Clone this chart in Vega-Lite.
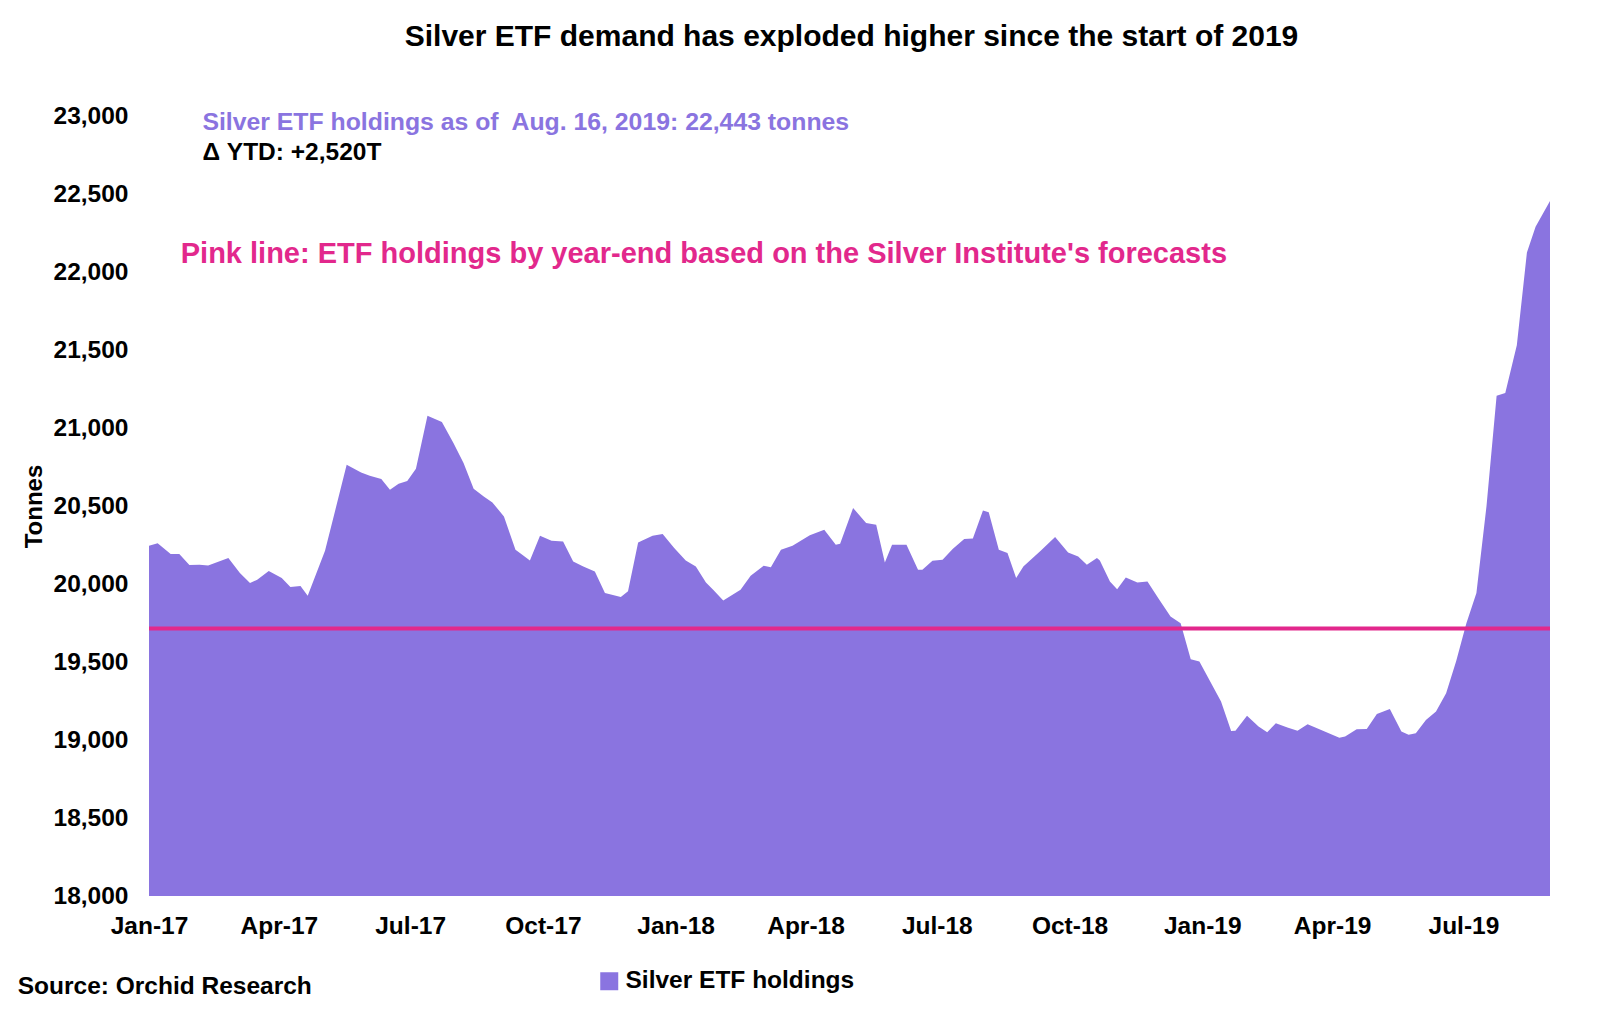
{
  "$schema": "https://vega.github.io/schema/vega-lite/v6.json",
  "width": 1401,
  "height": 780,
  "autosize": {"type": "none"},
  "padding": {"left": 149, "top": 116, "right": 59, "bottom": 117},
  "background": "white",
  "config": {"view": {"stroke": null}, "font": "Liberation Sans"},
  "title": {
    "text": "Silver ETF demand has exploded higher since the start of 2019",
    "font": "Liberation Sans",
    "fontSize": 30,
    "fontWeight": "bold",
    "color": "#000000",
    "anchor": "middle",
    "frame": "group",
    "dx": 2,
    "offset": 51
  },
  "resolve": {"axis": {"x": "independent", "y": "independent"}},
  "data": {
    "values": [
      {"date": "2017-01-01", "tonnes": 20245},
      {"date": "2017-01-07", "tonnes": 20262},
      {"date": "2017-01-16", "tonnes": 20192},
      {"date": "2017-01-22", "tonnes": 20192},
      {"date": "2017-01-29", "tonnes": 20121},
      {"date": "2017-02-05", "tonnes": 20123},
      {"date": "2017-02-11", "tonnes": 20119},
      {"date": "2017-02-25", "tonnes": 20166},
      {"date": "2017-03-05", "tonnes": 20070},
      {"date": "2017-03-12", "tonnes": 20006},
      {"date": "2017-03-17", "tonnes": 20027},
      {"date": "2017-03-25", "tonnes": 20083},
      {"date": "2017-04-03", "tonnes": 20038},
      {"date": "2017-04-09", "tonnes": 19980},
      {"date": "2017-04-16", "tonnes": 19987},
      {"date": "2017-04-21", "tonnes": 19924},
      {"date": "2017-05-03", "tonnes": 20213},
      {"date": "2017-05-10", "tonnes": 20470},
      {"date": "2017-05-18", "tonnes": 20765},
      {"date": "2017-05-28", "tonnes": 20715},
      {"date": "2017-06-03", "tonnes": 20694},
      {"date": "2017-06-11", "tonnes": 20673},
      {"date": "2017-06-17", "tonnes": 20604},
      {"date": "2017-06-23", "tonnes": 20643},
      {"date": "2017-06-29", "tonnes": 20660},
      {"date": "2017-07-05", "tonnes": 20739},
      {"date": "2017-07-13", "tonnes": 21079},
      {"date": "2017-07-23", "tonnes": 21038},
      {"date": "2017-07-31", "tonnes": 20904},
      {"date": "2017-08-07", "tonnes": 20775},
      {"date": "2017-08-14", "tonnes": 20611},
      {"date": "2017-08-21", "tonnes": 20561},
      {"date": "2017-08-27", "tonnes": 20523},
      {"date": "2017-09-04", "tonnes": 20433},
      {"date": "2017-09-12", "tonnes": 20219},
      {"date": "2017-09-16", "tonnes": 20192},
      {"date": "2017-09-22", "tonnes": 20151},
      {"date": "2017-09-29", "tonnes": 20309},
      {"date": "2017-10-07", "tonnes": 20277},
      {"date": "2017-10-15", "tonnes": 20273},
      {"date": "2017-10-22", "tonnes": 20144},
      {"date": "2017-10-29", "tonnes": 20112},
      {"date": "2017-11-06", "tonnes": 20080},
      {"date": "2017-11-13", "tonnes": 19942},
      {"date": "2017-11-24", "tonnes": 19916},
      {"date": "2017-11-29", "tonnes": 19954},
      {"date": "2017-12-06", "tonnes": 20266},
      {"date": "2017-12-16", "tonnes": 20309},
      {"date": "2017-12-23", "tonnes": 20320},
      {"date": "2017-12-31", "tonnes": 20230},
      {"date": "2018-01-08", "tonnes": 20151},
      {"date": "2018-01-15", "tonnes": 20112},
      {"date": "2018-01-22", "tonnes": 20010},
      {"date": "2018-01-27", "tonnes": 19963},
      {"date": "2018-02-03", "tonnes": 19894},
      {"date": "2018-02-15", "tonnes": 19963},
      {"date": "2018-02-22", "tonnes": 20053},
      {"date": "2018-03-03", "tonnes": 20117},
      {"date": "2018-03-08", "tonnes": 20108},
      {"date": "2018-03-15", "tonnes": 20219},
      {"date": "2018-03-23", "tonnes": 20245},
      {"date": "2018-04-04", "tonnes": 20313},
      {"date": "2018-04-14", "tonnes": 20348},
      {"date": "2018-04-22", "tonnes": 20251},
      {"date": "2018-04-25", "tonnes": 20258},
      {"date": "2018-05-04", "tonnes": 20487},
      {"date": "2018-05-13", "tonnes": 20391},
      {"date": "2018-05-20", "tonnes": 20380},
      {"date": "2018-05-26", "tonnes": 20138},
      {"date": "2018-05-31", "tonnes": 20251},
      {"date": "2018-06-10", "tonnes": 20251},
      {"date": "2018-06-18", "tonnes": 20091},
      {"date": "2018-06-21", "tonnes": 20091},
      {"date": "2018-06-28", "tonnes": 20149},
      {"date": "2018-07-05", "tonnes": 20155},
      {"date": "2018-07-12", "tonnes": 20224},
      {"date": "2018-07-20", "tonnes": 20288},
      {"date": "2018-07-26", "tonnes": 20292},
      {"date": "2018-08-02", "tonnes": 20471},
      {"date": "2018-08-06", "tonnes": 20460},
      {"date": "2018-08-13", "tonnes": 20219},
      {"date": "2018-08-19", "tonnes": 20198},
      {"date": "2018-08-25", "tonnes": 20038},
      {"date": "2018-08-30", "tonnes": 20112},
      {"date": "2018-09-11", "tonnes": 20213},
      {"date": "2018-09-21", "tonnes": 20301},
      {"date": "2018-09-30", "tonnes": 20202},
      {"date": "2018-10-07", "tonnes": 20176},
      {"date": "2018-10-13", "tonnes": 20123},
      {"date": "2018-10-20", "tonnes": 20166},
      {"date": "2018-10-22", "tonnes": 20151},
      {"date": "2018-10-29", "tonnes": 20016},
      {"date": "2018-11-03", "tonnes": 19967},
      {"date": "2018-11-09", "tonnes": 20042},
      {"date": "2018-11-17", "tonnes": 20010},
      {"date": "2018-11-24", "tonnes": 20016},
      {"date": "2018-12-02", "tonnes": 19903},
      {"date": "2018-12-10", "tonnes": 19792},
      {"date": "2018-12-17", "tonnes": 19749},
      {"date": "2018-12-24", "tonnes": 19518},
      {"date": "2018-12-30", "tonnes": 19503},
      {"date": "2019-01-14", "tonnes": 19246},
      {"date": "2019-01-21", "tonnes": 19058},
      {"date": "2019-01-24", "tonnes": 19060},
      {"date": "2019-02-01", "tonnes": 19155},
      {"date": "2019-02-09", "tonnes": 19086},
      {"date": "2019-02-15", "tonnes": 19050},
      {"date": "2019-02-21", "tonnes": 19108},
      {"date": "2019-03-01", "tonnes": 19080},
      {"date": "2019-03-08", "tonnes": 19060},
      {"date": "2019-03-15", "tonnes": 19101},
      {"date": "2019-03-24", "tonnes": 19065},
      {"date": "2019-04-06", "tonnes": 19015},
      {"date": "2019-04-10", "tonnes": 19022},
      {"date": "2019-04-18", "tonnes": 19069},
      {"date": "2019-04-25", "tonnes": 19071},
      {"date": "2019-05-02", "tonnes": 19167},
      {"date": "2019-05-11", "tonnes": 19198},
      {"date": "2019-05-19", "tonnes": 19054},
      {"date": "2019-05-24", "tonnes": 19033},
      {"date": "2019-05-29", "tonnes": 19044},
      {"date": "2019-06-05", "tonnes": 19129},
      {"date": "2019-06-12", "tonnes": 19182},
      {"date": "2019-06-19", "tonnes": 19300},
      {"date": "2019-06-26", "tonnes": 19507},
      {"date": "2019-07-03", "tonnes": 19747},
      {"date": "2019-07-10", "tonnes": 19942},
      {"date": "2019-07-17", "tonnes": 20500},
      {"date": "2019-07-24", "tonnes": 21207},
      {"date": "2019-07-30", "tonnes": 21224},
      {"date": "2019-08-07", "tonnes": 21530},
      {"date": "2019-08-14", "tonnes": 22125},
      {"date": "2019-08-20", "tonnes": 22290},
      {"date": "2019-08-30", "tonnes": 22455}
    ]
  },
  "layer": [
    {
      "mark": {"type": "area", "interpolate": "linear", "clip": true},
      "encoding": {
        "x": {
          "field": "date",
          "type": "temporal",
          "scale": {
            "type": "utc",
            "domain": [
              {"year": 2017, "month": 1, "date": 1, "utc": true},
              {"year": 2019, "month": 8, "date": 30, "utc": true}
            ]
          },
          "axis": {
            "title": null,
            "labelExpr": "utcFormat(datum.value, '%b-%y')",
            "values": [
              {"year": 2017, "month": 1, "date": 1, "utc": true},
              {"year": 2017, "month": 4, "date": 1, "utc": true},
              {"year": 2017, "month": 7, "date": 1, "utc": true},
              {"year": 2017, "month": 10, "date": 1, "utc": true},
              {"year": 2018, "month": 1, "date": 1, "utc": true},
              {"year": 2018, "month": 4, "date": 1, "utc": true},
              {"year": 2018, "month": 7, "date": 1, "utc": true},
              {"year": 2018, "month": 10, "date": 1, "utc": true},
              {"year": 2019, "month": 1, "date": 1, "utc": true},
              {"year": 2019, "month": 4, "date": 1, "utc": true},
              {"year": 2019, "month": 7, "date": 1, "utc": true}
            ],
            "ticks": false,
            "domain": false,
            "grid": false,
            "labelFont": "Liberation Sans",
            "labelFontSize": 24.5,
            "labelFontWeight": "bold",
            "labelColor": "#000000",
            "labelPadding": 18,
            "labelFlush": false,
            "labelOverlap": false
          }
        },
        "y": {
          "field": "tonnes",
          "type": "quantitative",
          "scale": {"domain": [18000, 23000], "zero": false, "nice": false},
          "axis": {
            "title": "Tonnes",
            "titleFont": "Liberation Sans",
            "titleFontSize": 24,
            "titleFontWeight": "bold",
            "titleColor": "#000000",
            "titlePadding": 7,
            "values": [18000, 18500, 19000, 19500, 20000, 20500, 21000, 21500, 22000, 22500, 23000],
            "format": ",.0f",
            "ticks": false,
            "domain": false,
            "grid": false,
            "labelFont": "Liberation Sans",
            "labelFontSize": 24.5,
            "labelFontWeight": "bold",
            "labelColor": "#000000",
            "labelPadding": 21,
            "labelFlush": false,
            "labelOverlap": false
          }
        },
        "color": {
          "datum": "Silver ETF holdings",
          "type": "nominal",
          "scale": {"range": ["#8A74E0"]},
          "legend": {
            "title": null,
            "orient": "none",
            "legendX": 448,
            "legendY": 853,
            "padding": 0,
            "symbolType": "square",
            "symbolSize": 324,
            "symbolStrokeWidth": 0,
            "symbolOpacity": 1,
            "labelFont": "Liberation Sans",
            "labelFontSize": 24.5,
            "labelFontWeight": "bold",
            "labelColor": "#000000",
            "labelOffset": 4,
            "labelLimit": 0
          }
        }
      }
    },
    {
      "data": {"values": [{}]},
      "mark": {"type": "rule", "color": "#E2288C", "strokeWidth": 4},
      "encoding": {"y": {"datum": 19715, "type": "quantitative", "axis": null}}
    },
    {
      "data": {"values": [{}]},
      "mark": {
        "type": "text",
        "text": "Silver ETF holdings as of\u00a0 Aug. 16, 2019: 22,443 tonnes",
        "align": "left",
        "baseline": "alphabetic",
        "font": "Liberation Sans",
        "fontSize": 24.8,
        "fontWeight": "bold",
        "color": "#8A74E0"
      },
      "encoding": {
        "x": {"datum": {"year": 2017, "month": 2, "date": 7, "utc": true}, "type": "temporal", "axis": null},
        "y": {"datum": 22913, "type": "quantitative", "axis": null}
      }
    },
    {
      "data": {"values": [{}]},
      "mark": {
        "type": "text",
        "text": "Δ YTD: +2,520T",
        "align": "left",
        "baseline": "alphabetic",
        "font": "Liberation Sans",
        "fontSize": 24.5,
        "fontWeight": "bold",
        "color": "#000000"
      },
      "encoding": {
        "x": {"datum": {"year": 2017, "month": 2, "date": 7, "utc": true}, "type": "temporal", "axis": null},
        "y": {"datum": 22718, "type": "quantitative", "axis": null}
      }
    },
    {
      "data": {"values": [{}]},
      "mark": {
        "type": "text",
        "text": "Pink line: ETF holdings by year-end based on the Silver Institute's forecasts",
        "align": "left",
        "baseline": "alphabetic",
        "font": "Liberation Sans",
        "fontSize": 29,
        "fontWeight": "bold",
        "color": "#E2288C"
      },
      "encoding": {
        "x": {"datum": {"year": 2017, "month": 1, "date": 23, "utc": true}, "type": "temporal", "axis": null},
        "y": {"datum": 22055, "type": "quantitative", "axis": null}
      }
    },
    {
      "data": {"values": [{}]},
      "mark": {
        "type": "text",
        "text": "Source: Orchid Research",
        "align": "left",
        "baseline": "alphabetic",
        "font": "Liberation Sans",
        "fontSize": 24.5,
        "fontWeight": "bold",
        "color": "#000000"
      },
      "encoding": {
        "x": {"datum": {"year": 2016, "month": 10, "date": 2, "utc": true}, "type": "temporal", "axis": null},
        "y": {"datum": 17373, "type": "quantitative", "axis": null}
      }
    }
  ]
}
